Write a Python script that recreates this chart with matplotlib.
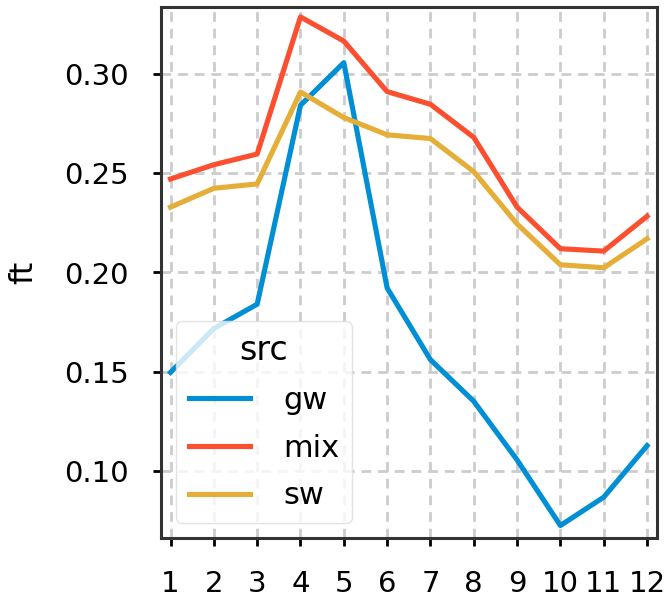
import matplotlib
matplotlib.use("Agg")
import matplotlib.pyplot as plt

months = list(range(1, 13))
gw = [0.1496, 0.1717, 0.1840, 0.2844, 0.3059, 0.1922, 0.1560, 0.1350, 0.1054, 0.0723, 0.0866, 0.1126]
mix = [0.2472, 0.2544, 0.2598, 0.3290, 0.3168, 0.2913, 0.2849, 0.2682, 0.2330, 0.2120, 0.2108, 0.2284]
sw = [0.2330, 0.2425, 0.2447, 0.2911, 0.2782, 0.2695, 0.2676, 0.2509, 0.2245, 0.2039, 0.2024, 0.2170]

series = {"gw": gw, "mix": mix, "sw": sw}
colors = {"gw": "#008fd5", "mix": "#fc4f30", "sw": "#e5ae38"}

plt.rcParams.update({
    "font.family": "DejaVu Sans",
    "axes.edgecolor": "#333333",
    "axes.linewidth": 2.2,
    "xtick.major.size": 6,
    "ytick.major.size": 6,
    "xtick.major.width": 2,
    "ytick.major.width": 2,
})

fig = plt.figure(figsize=(6.66, 5.99), dpi=100)
ax = fig.add_axes([161 / 666, 1 - 538 / 599, (657 - 161) / 666, (538 - 7) / 599])

for name, vals in series.items():
    ax.plot(months, vals, color=colors[name], lw=3.7, label=name)

ax.set_xlim(0.78, 12.23)
ax.set_ylim(0.066, 0.334)
ax.set_xticks(months)
ax.set_yticks([0.10, 0.15, 0.20, 0.25, 0.30])
ax.set_yticklabels(["0.10", "0.15", "0.20", "0.25", "0.30"])
ax.tick_params(labelsize=21, pad=17)
ax.set_ylabel("ft", fontsize=23, labelpad=18)
ax.grid(True, ls=(0, (3.5, 2.5)), color="#cccccc", lw=2)

leg = ax.legend(title="src", loc="lower left", fontsize=22, title_fontsize=24,
                handlelength=2.0, handletextpad=1.1, labelspacing=0.62,
                framealpha=0.8, edgecolor="#dddddd")

fig.savefig("out.png", dpi=100)
